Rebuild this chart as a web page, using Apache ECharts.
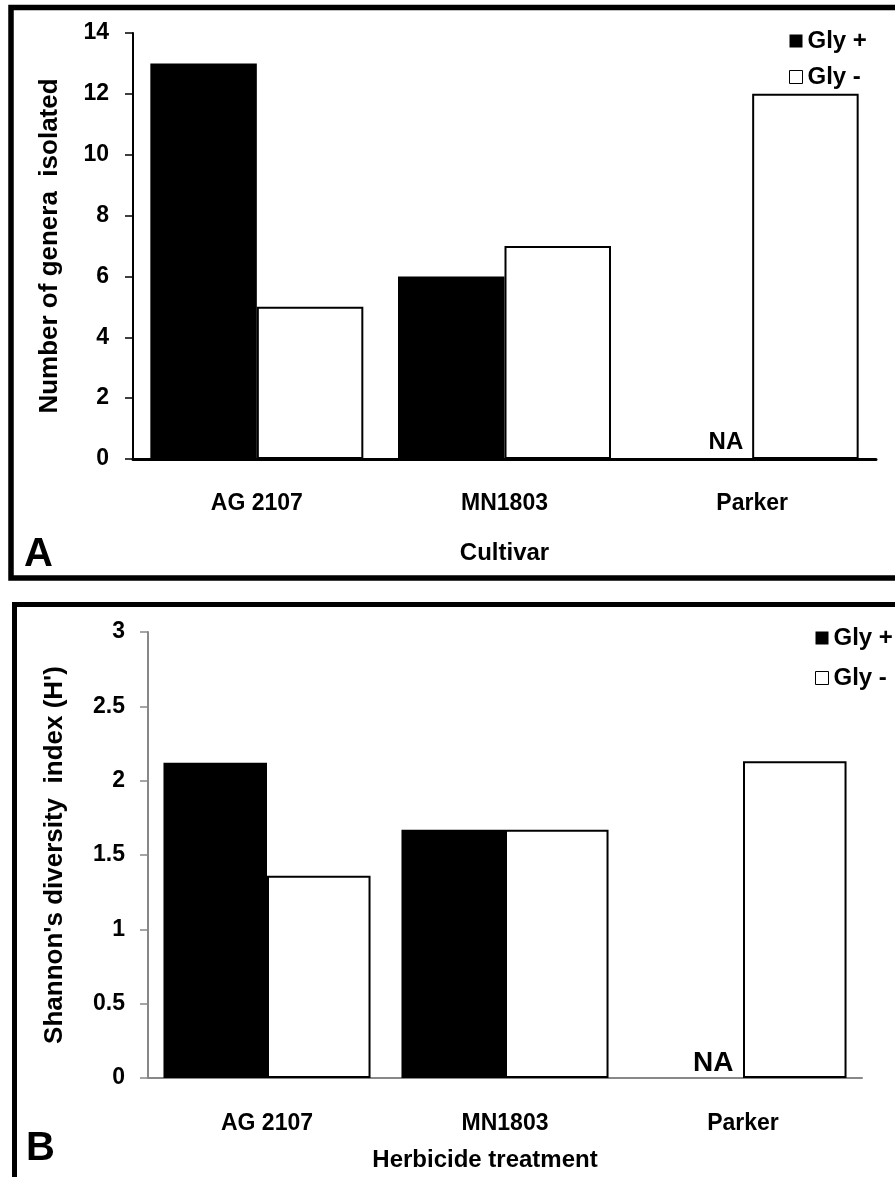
<!DOCTYPE html>
<html>
<head>
<meta charset="utf-8">
<script src="https://cdn.jsdelivr.net/npm/echarts@6/dist/echarts.min.js"></script>
<style>
html,body{margin:0;padding:0;background:#fff;}
#chart{width:895px;height:1177px;}
</style>
</head>
<body>
<div id="chart"></div>
<script>
// ---- data ----
const categories = ['AG 2107', 'MN1803', 'Parker'];
const seriesNames = ['Gly +', 'Gly -'];
const generaGlyPlus = [13, 6, null];      // null = NA
const generaGlyMinus = [5, 7, 12];
const shannonGlyPlus = [2.12, 1.67, null]; // null = NA
const shannonGlyMinus = [1.36, 1.67, 2.13];
const generaAxis = { min: 0, max: 14, interval: 2 };
const shannonAxis = { min: 0, max: 3, interval: 0.5 };

const FONT = '"Liberation Sans", Arial, sans-serif';

function naItems(arr, fontSize, offsetX, dist) {
  return arr.map(v => v === null ? {
    value: 0,
    itemStyle: { color: 'rgba(0,0,0,0)', borderWidth: 0 },
    label: { show: true, formatter: 'NA', position: 'top', distance: dist, offset: [offsetX, 0],
      fontFamily: FONT, fontWeight: 'bold', fontSize: fontSize, color: '#000' }
  } : v);
}

const chart = echarts.init(document.getElementById('chart'), null, { renderer: 'canvas' });

const axisText = { fontFamily: FONT, fontWeight: 'bold', color: '#000' };

const option = {
  backgroundColor: '#fff',
  animation: false,
  grid: [
    { left: 133, top: 33, width: 743, height: 426 },
    { left: 148, top: 632, width: 714, height: 446 }
  ],
  xAxis: [
    {
      gridIndex: 0, type: 'category', data: categories,
      axisLine: { lineStyle: { color: '#000', width: 3 } },
      axisTick: { length: 8, lineStyle: { color: '#000', width: 1.5 } },
      axisLabel: Object.assign({ fontSize: 23, margin: 33 }, axisText),
      name: 'Cultivar', nameLocation: 'middle', nameGap: 82,
      nameTextStyle: Object.assign({ fontSize: 24 }, axisText)
    },
    {
      gridIndex: 1, type: 'category', data: categories,
      axisLine: { lineStyle: { color: '#888', width: 2 } },
      axisTick: { length: 8, lineStyle: { color: '#888', width: 1.5 } },
      axisLabel: Object.assign({ fontSize: 23, margin: 34 }, axisText),
      name: 'Herbicide treatment', nameLocation: 'middle', nameGap: 70,
      nameTextStyle: Object.assign({ fontSize: 24, padding: [0, 40, 0, 0] }, axisText)
    }
  ],
  yAxis: [
    {
      gridIndex: 0, type: 'value', min: generaAxis.min, max: generaAxis.max, interval: generaAxis.interval,
      splitLine: { show: false },
      axisLine: { show: true, lineStyle: { color: '#000', width: 2 } },
      axisTick: { show: true, length: 8, lineStyle: { color: '#000', width: 1.5 } },
      axisLabel: Object.assign({ fontSize: 23, margin: 24, padding: [6, 0, 0, 0] }, axisText),
      name: 'Number of genera  isolated', nameLocation: 'middle', nameGap: 70, nameRotate: 90,
      nameTextStyle: Object.assign({ fontSize: 26 }, axisText)
    },
    {
      gridIndex: 1, type: 'value', min: shannonAxis.min, max: shannonAxis.max, interval: shannonAxis.interval,
      splitLine: { show: false },
      axisLine: { show: true, lineStyle: { color: '#888', width: 2 } },
      axisTick: { show: true, length: 8, lineStyle: { color: '#888', width: 1.5 } },
      axisLabel: Object.assign({ fontSize: 23, margin: 23, padding: [7, 0, 0, 0] }, axisText),
      name: "Shannon's diversity  index (H')", nameLocation: 'middle', nameGap: 80, nameRotate: 90,
      nameTextStyle: Object.assign({ fontSize: 26 }, axisText)
    }
  ],
  legend: [
    {
      orient: 'vertical', left: 784, top: 23, itemWidth: 13, itemHeight: 13, itemGap: 10,
      selectedMode: false,
      textStyle: { fontFamily: FONT, fontWeight: 'bold', fontSize: 24, color: '#000', lineHeight: 26 },
      data: [
        { name: seriesNames[0], icon: 'rect', itemStyle: { color: '#000', borderWidth: 0 } },
        { name: seriesNames[1], icon: 'rect', itemStyle: { color: '#fff', borderColor: '#000', borderWidth: 1 } }
      ]
    },
    {
      orient: 'vertical', left: 810, top: 620, itemWidth: 13, itemHeight: 13, itemGap: 14,
      selectedMode: false,
      textStyle: { fontFamily: FONT, fontWeight: 'bold', fontSize: 24, color: '#000', lineHeight: 26 },
      data: [
        { name: seriesNames[0], icon: 'rect', itemStyle: { color: '#000', borderWidth: 0 } },
        { name: seriesNames[1], icon: 'rect', itemStyle: { color: '#fff', borderColor: '#000', borderWidth: 1 } }
      ]
    }
  ],
  series: [
    {
      name: seriesNames[0], type: 'bar', xAxisIndex: 0, yAxisIndex: 0,
      barGap: '0%', barCategoryGap: '14%',
      itemStyle: { color: '#000', borderColor: '#000', borderWidth: 0 },
      data: naItems(generaGlyPlus, 24, 27, 5)
    },
    {
      name: seriesNames[1], type: 'bar', xAxisIndex: 0, yAxisIndex: 0,
      barGap: '0%', barCategoryGap: '14%',
      itemStyle: { color: '#fff', borderColor: '#000', borderWidth: 2 },
      data: generaGlyMinus
    },
    {
      name: seriesNames[0], type: 'bar', xAxisIndex: 1, yAxisIndex: 1,
      barGap: '0%', barCategoryGap: '13%',
      itemStyle: { color: '#000', borderColor: '#000', borderWidth: 0 },
      data: naItems(shannonGlyPlus, 28, 22, 1)
    },
    {
      name: seriesNames[1], type: 'bar', xAxisIndex: 1, yAxisIndex: 1,
      barGap: '0%', barCategoryGap: '13%',
      itemStyle: { color: '#fff', borderColor: '#000', borderWidth: 2 },
      data: shannonGlyMinus
    }
  ],
  graphic: [
    { type: 'rect', shape: { x: 11, y: 7.5, width: 900, height: 570.5 },
      style: { fill: 'none', stroke: '#000', lineWidth: 5.5 }, z: 100 },
    { type: 'rect', shape: { x: 14.5, y: 604.5, width: 900, height: 620 },
      style: { fill: 'none', stroke: '#000', lineWidth: 5 }, z: 100 },
    { type: 'text', left: 24, top: 535,
      style: { text: 'A', font: 'bold 40px "Liberation Sans", Arial, sans-serif', fill: '#000' } },
    { type: 'text', left: 26, top: 1129,
      style: { text: 'B', font: 'bold 40px "Liberation Sans", Arial, sans-serif', fill: '#000' } }
  ]
};
chart.setOption(option);
</script>
</body>
</html>
